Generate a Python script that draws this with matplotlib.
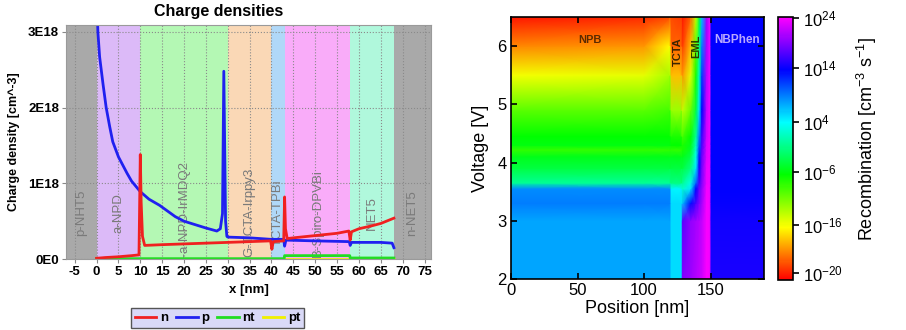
import numpy as np
import matplotlib
matplotlib.use("Agg")
import matplotlib.pyplot as plt
from matplotlib.colors import LinearSegmentedColormap, FuncNorm

plt.rcParams['font.family'] = ['Liberation Sans', 'DejaVu Sans']
plt.rcParams['mathtext.default'] = 'regular'

# ---------------- left panel: charge densities ----------------
layer_names = ['p-NHT5', 'a-NPD', 'R-a-NPD-IrMDQ2', 'G-TCTA-Irppy3', 'TCTA-TPBi',
               'B-Spiro-DPVBi', 'NET5', 'n-NET5']
layer_edges = [-7, 0, 10, 30, 40, 43, 58, 68, 76.5]
layer_colors = ['#a9a9a9', '#dcbaf8', '#b4f8b4', '#fad8b6', '#b0d8f8',
                '#f9acf9', '#b0f8dc', '#a9a9a9']

# electrons n  [1e18 cm^-3]
x_n = [0, 2, 5, 8, 9.7, 10.0, 10.2, 10.5, 11, 15, 20, 25, 30, 35, 39.8, 40.1, 40.4,
       42.8, 43.0, 43.2, 43.6, 45, 50, 55, 57.7, 58.0, 58.3, 60, 63, 65, 68]
n_val = [0.01, 0.02, 0.03, 0.045, 0.055, 1.38, 0.75, 0.30, 0.18, 0.19, 0.20, 0.21,
         0.22, 0.23, 0.24, 0.13, 0.23, 0.24, 0.82, 0.40, 0.27, 0.28, 0.31, 0.34,
         0.37, 0.25, 0.36, 0.40, 0.44, 0.47, 0.54]

# holes p  [1e18 cm^-3]
x_p = [0.0, 0.3, 0.7, 1.5, 2.2, 3, 3.7, 5, 6, 7, 8, 10, 12, 14.4, 18, 20, 25, 27.5,
       28.3, 28.8, 29.1, 29.5, 29.8, 30, 35, 40, 42.8, 43.0, 43.3, 50, 57.8, 58.0,
       58.3, 65, 67.6, 68]
p_val = [3.6, 3.0, 2.67, 2.3, 2.0, 1.75, 1.55, 1.35, 1.24, 1.13, 1.03, 0.89, 0.79,
         0.71, 0.56, 0.50, 0.41, 0.37, 0.40, 0.60, 2.48, 0.50, 0.30, 0.29, 0.28,
         0.26, 0.26, 0.17, 0.25, 0.24, 0.23, 0.18, 0.22, 0.22, 0.21, 0.15]

# trapped electrons nt / trapped holes pt  [1e18 cm^-3]
x_t = [0, 42.9, 43.0, 57.9, 58.0, 68]
nt_val = [0.005, 0.005, 0.045, 0.045, 0.014, 0.014]
pt_val = [0, 0, 0, 0, 0, 0]

y_ticks = [0, 1, 2, 3]
y_tick_labels = ['0E0', '1E18', '2E18', '3E18']
x_ticks = list(range(-5, 80, 5))

# ---------------- right panel: recombination map ----------------
pos_nm = [0, 100, 119.5, 120.5, 128, 129, 135, 139, 141.5, 143.5, 147, 149.5, 150.5, 190]
volt_v = [2.0, 3.0, 3.3, 3.55, 3.65, 3.9, 4.1, 4.22, 4.3, 4.45, 4.9, 5.5, 6.0, 6.5]
# log10 recombination rate [cm^-3 s^-1], one row per voltage
log_rec = [
    [7.4, 7.4, 7.4, 5.3, 5.3, 18.9, 20.0, 21.1, 21.6, 22.1, 24, 23.7, 14.7, 14.7],
    [7.4, 7.4, 7.4, 5.3, 5.3, 17.4, 19.5, 20.5, 21.1, 21.6, 24, 23.7, 14.2, 14.2],
    [8.8, 8.8, 8.8, 5.3, 5.3, 6.4, 13.2, 16.8, 18.9, 20.5, 24, 23.7, 13.9, 13.9],
    [8.3, 8.3, 8.3, 4.4, 4.4, 1.8, 4.9, 13.7, 17.9, 19.5, 23.7, 23.7, 13.7, 13.7],
    [-0.3, -0.3, -0.3, -1.3, -1.3, -0.3, 2.9, 9.8, 16.8, 18.9, 23.2, 23.7, 13.7, 13.7],
    [-3.9, -3.9, -3.9, -3.9, -3.9, -3.9, -1.3, 4.9, 14.7, 18.4, 23.2, 23.7, 13.7, 13.7],
    [-5.5, -5.5, -5.5, -5.5, -5.5, -5.5, -3.4, 2.9, 12.7, 17.9, 22.6, 23.7, 13.7, 13.7],
    [-8.5, -8.5, -8.5, -8.5, -8.5, -7.5, -5.0, 1.8, 11.3, 17.4, 22.6, 23.7, 13.7, 13.7],
    [-6.0, -6.0, -6.0, -6.5, -6.5, -7.5, -5.5, 1.3, 10.3, 16.8, 22.6, 23.7, 13.7, 13.7],
    [-6.5, -6.5, -6.5, -7.5, -7.5, -9.0, -6.5, -0.3, 8.8, 16.3, 22.1, 23.7, 13.7, 13.7],
    [-10.0, -10.0, -9.0, -12.5, -12.5, -14.0, -10.5, -3.9, 5.0, 13.7, 21.6, 23.7, 13.7, 13.7],
    [-16.0, -15.5, -13.0, -17.3, -17.3, -18.0, -15.5, -7.5, 1.3, 11.3, 21.1, 23.7, 13.7, 13.7],
    [-18.2, -18.0, -16.2, -18.8, -18.8, -19.5, -17.3, -10.0, -1.3, 8.8, 20.5, 23.7, 13.7, 13.7],
    [-20.2, -19.9, -19.3, -19.3, -19.5, -20.2, -18.8, -14.0, -3.9, 6.4, 20.0, 23.7, 13.7, 13.7],
]

# colour bar: tick exponents and where they sit on the bar (bar is not linear)
cb_exp = [-20.6, -20, -16, -6, 4, 14, 24, 24.2]
cb_frac = [0, 0.027, 0.209, 0.411, 0.601, 0.806, 0.996, 1.0]
cb_ticks = [-20, -16, -6, 4, 14, 24]
cb_labels = ['$10^{-20}$', '$10^{-16}$', '$10^{-6}$', '$10^{4}$', '$10^{14}$', '$10^{24}$']

fig = plt.figure(figsize=(9.06, 3.3), dpi=100)

# ======== left axes ========
ax1 = fig.add_axes([0.0728, 0.215, 0.403, 0.709])
for lo, hi, c in zip(layer_edges[:-1], layer_edges[1:], layer_colors):
    ax1.axvspan(lo, hi, color=c, lw=0, zorder=0)
for lo, hi, name in zip(layer_edges[:-1], layer_edges[1:], layer_names):
    ax1.text((lo + hi) / 2, 0.61e18, name, rotation=90, ha='center', va='center',
             color='#7a7a7a', fontsize=9.5, clip_on=True, zorder=1)

scale = 1e18
lpt, = ax1.plot(x_t, np.array(pt_val) * scale, color='#f0f000', lw=2, zorder=2)
lnt, = ax1.plot(x_t, np.array(nt_val) * scale, color='#22dd22', lw=2, zorder=2.1)
lp, = ax1.plot(x_p, np.array(p_val) * scale, color='#2020f0', lw=2, zorder=2.2)
ln, = ax1.plot(x_n, np.array(n_val) * scale, color='#f02020', lw=2, zorder=2.3)

ax1.set_xlim(-7, 76.5)
ax1.set_ylim(0, 3.09e18)
ax1.set_axisbelow(True)
ax1.grid(True, ls=':', color='#8a8a8a', lw=0.8)
ax1.set_xticks(x_ticks)
ax1.set_xticklabels([str(t) for t in x_ticks], fontweight='bold', fontsize=9.5)
ax1.set_yticks(np.array(y_ticks) * scale)
ax1.set_yticklabels(y_tick_labels, fontweight='bold', fontsize=9.5)
ax1.tick_params(length=3, color='#888888', pad=2)
for s in ax1.spines.values():
    s.set_color('#9a9a9a')
ax1.set_xlabel('x [nm]', fontweight='bold', fontsize=9.5, labelpad=4)
ax1.set_ylabel('Charge density [cm^-3]', fontweight='bold', fontsize=9, labelpad=6)
fig.text(0.241, 0.964, 'Charge densities', ha='center', va='center',
         fontweight='bold', fontsize=11.5)

leg = ax1.legend([ln, lp, lnt, lpt], ['n', 'p', 'nt', 'pt'], ncol=4, loc='center',
                 bbox_to_anchor=(0.416, -0.252), prop={'weight': 'bold', 'size': 9.5},
                 handlelength=1.6, handletextpad=0.3, columnspacing=0.6,
                 borderpad=0.3, fancybox=False, framealpha=1)
leg.get_frame().set_facecolor('#d9d9f7')
leg.get_frame().set_edgecolor('#555555')

# ======== right axes ========
cmap = LinearSegmentedColormap.from_list('rec', [
    (0.0, '#ff0000'), (0.1, '#ff8000'), (0.2, '#ffff00'), (0.4, '#00ff00'),
    (0.6, '#00ffff'), (0.8, '#0000ff'), (1.0, '#ff00ff')])


def fwd(v):
    return np.interp(v, cb_exp, cb_frac)


def inv(f):
    return np.interp(f, cb_frac, cb_exp)


norm = FuncNorm((fwd, inv), vmin=cb_exp[0], vmax=cb_exp[-1])

ax2 = fig.add_axes([0.564, 0.1545, 0.279, 0.794])
mesh = ax2.pcolormesh(pos_nm, volt_v, np.array(log_rec), shading='gouraud',
                      cmap=cmap, norm=norm)
ax2.set_xlim(0, 190)
ax2.set_ylim(2, 6.5)
ax2.set_xticks([0, 50, 100, 150])
ax2.set_yticks([2, 3, 4, 5, 6])
ax2.tick_params(direction='in', top=True, right=True, length=4, width=1.2,
                labelsize=12, pad=3)
for s in ax2.spines.values():
    s.set_linewidth(1.2)
ax2.set_xlabel('Position [nm]', fontsize=13, labelpad=1)
ax2.set_ylabel('Voltage [V]', fontsize=13, labelpad=6)

ax2.text(59, 6.1, 'NPB', color='#5a2a00', fontsize=8, fontweight='bold',
         ha='center', va='center')
ax2.text(125.5, 5.9, 'TCTA', color='#3a2400', fontsize=8, fontweight='bold',
         rotation=90, ha='center', va='center')
ax2.text(139.5, 6.0, 'EML', color='#2a3a00', fontsize=8, fontweight='bold',
         rotation=90, ha='center', va='center')
ax2.text(170, 6.1, 'NBPhen', color='#b9a8ff', fontsize=8.5, fontweight='bold',
         ha='center', va='center')

cax = fig.add_axes([0.8587, 0.1515, 0.0166, 0.797])
cb = fig.colorbar(mesh, cax=cax)
cb.set_ticks(cb_ticks)
cb.set_ticklabels(cb_labels)
cb.ax.tick_params(labelsize=12, length=4, width=1.2, pad=3)
cb.ax.minorticks_off()
cb.outline.set_linewidth(1.2)
fig.text(0.957, 0.58, 'Recombination [cm$^{-3}$ s$^{-1}$]', rotation=90,
         ha='center', va='center', fontsize=13)

fig.savefig('out.png', dpi=100)
